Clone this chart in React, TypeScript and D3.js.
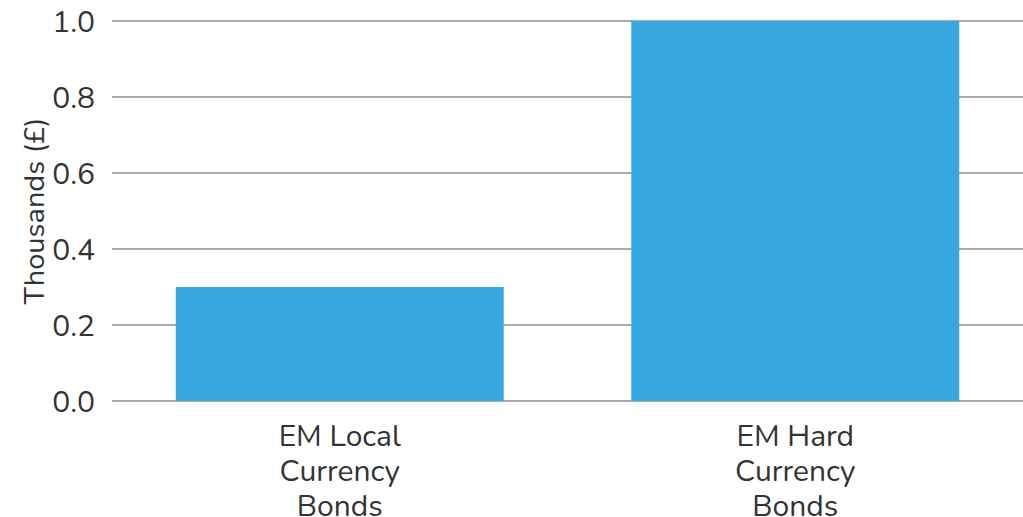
import * as d3 from 'd3';
import React from 'react';

const categories = [['EM Local', 'Currency', 'Bonds'], ['EM Hard', 'Currency', 'Bonds']];
const values = [0.3, 1.0];
const yTicks = [0, 0.2, 0.4, 0.6, 0.8, 1.0];

export default function App() {
  const width = 1023;
  const height = 517;
  const left = 112;
  const right = 1023;
  const top = 21;
  const bottom = 401;
  const font = 'Nunito, Lato, "Open Sans", sans-serif';

  const x = d3
    .scaleBand<number>()
    .domain(values.map((v, i) => i))
    .range([left, right])
    .paddingInner(0.28)
    .paddingOuter(0.14);

  const y = d3.scaleLinear().domain([0, 1]).range([bottom, top]);

  return (
    <svg width={width} height={height} style={{ position: 'absolute', left: 0, top: 0 }}>
      {yTicks.map((t) => (
        <g key={t}>
          <line x1={left} x2={right} y1={y(t)} y2={y(t)} stroke="#aaaaaa" strokeWidth={2} />
          <text
            x={95}
            y={y(t)}
            dy="0.36em"
            textAnchor="end"
            fontFamily={font}
            fontSize={30}
            fill="#333333"
          >
            {t.toFixed(1)}
          </text>
        </g>
      ))}
      {values.map((v, i) => (
        <rect
          key={i}
          x={x(i)}
          y={y(v)}
          width={x.bandwidth()}
          height={y(0) - y(v)}
          fill="#38a9e0"
        />
      ))}
      {categories.map((lines, i) => (
        <text
          key={i}
          x={(x(i) as number) + x.bandwidth() / 2}
          y={446}
          textAnchor="middle"
          fontFamily={font}
          fontSize={30}
          fill="#333333"
        >
          {lines.map((l, j) => (
            <tspan key={j} x={(x(i) as number) + x.bandwidth() / 2} dy={j === 0 ? 0 : 35}>
              {l}
            </tspan>
          ))}
        </text>
      ))}
      <text
        transform={`translate(44, ${(top + bottom) / 2}) rotate(-90)`}
        textAnchor="middle"
        fontFamily={font}
        fontSize={29}
        fill="#333333"
      >
        Thousands (£)
      </text>
    </svg>
  );
}
